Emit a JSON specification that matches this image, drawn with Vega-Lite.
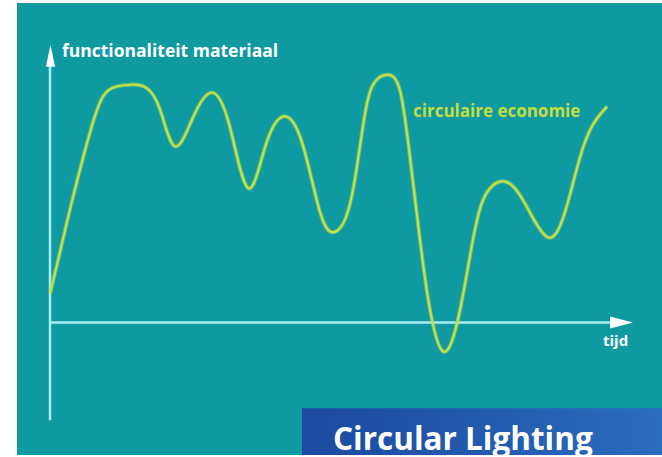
{
  "$schema": "https://vega.github.io/schema/vega-lite/v6.json",
  "width": 662,
  "height": 457,
  "autosize": {"type": "fit", "contains": "padding"},
  "padding": 0,
  "background": "#ffffff",
  "config": {"view": {"stroke": null}},
  "datasets": {
    "panel": [{"x": -33, "x2": 612, "y": -134, "y2": 320}],
    "banner": [{"x": 252, "x2": 612, "y": -134, "y2": -87}],
    "axes": [
      {"x": 0, "x2": 0, "y": -99, "y2": 258},
      {"x": 0, "x2": 562, "y": -1, "y2": -1}
    ],
    "curve": [
      {"tijd": 0, "functionaliteit": 28},
      {"tijd": 10, "functionaliteit": 70},
      {"tijd": 23, "functionaliteit": 125},
      {"tijd": 40, "functionaliteit": 190},
      {"tijd": 53, "functionaliteit": 226},
      {"tijd": 66, "functionaliteit": 236},
      {"tijd": 81, "functionaliteit": 238},
      {"tijd": 96, "functionaliteit": 235},
      {"tijd": 110, "functionaliteit": 213},
      {"tijd": 125, "functionaliteit": 176},
      {"tijd": 143, "functionaliteit": 205},
      {"tijd": 162, "functionaliteit": 230},
      {"tijd": 180, "functionaliteit": 195},
      {"tijd": 198, "functionaliteit": 134},
      {"tijd": 215, "functionaliteit": 175},
      {"tijd": 233, "functionaliteit": 206},
      {"tijd": 252, "functionaliteit": 180},
      {"tijd": 270, "functionaliteit": 110},
      {"tijd": 285, "functionaliteit": 90},
      {"tijd": 300, "functionaliteit": 118},
      {"tijd": 312, "functionaliteit": 190},
      {"tijd": 322, "functionaliteit": 236},
      {"tijd": 337, "functionaliteit": 248},
      {"tijd": 350, "functionaliteit": 232},
      {"tijd": 360, "functionaliteit": 165},
      {"tijd": 370, "functionaliteit": 82},
      {"tijd": 380, "functionaliteit": 12},
      {"tijd": 393, "functionaliteit": -30},
      {"tijd": 407, "functionaliteit": -2},
      {"tijd": 420, "functionaliteit": 66},
      {"tijd": 433, "functionaliteit": 122},
      {"tijd": 453, "functionaliteit": 141},
      {"tijd": 473, "functionaliteit": 122},
      {"tijd": 497, "functionaliteit": 85},
      {"tijd": 515, "functionaliteit": 110},
      {"tijd": 530, "functionaliteit": 165},
      {"tijd": 543, "functionaliteit": 198},
      {"tijd": 557, "functionaliteit": 216}
    ],
    "arrows": [
      {"x": 0.5, "y": 267, "dir": "up"},
      {"x": 571.5, "y": -1, "dir": "right"}
    ],
    "labels": [
      {"x": 12, "y": 271, "text": "functionaliteit materiaal", "kind": "axis"},
      {"x": 553, "y": -20, "text": "tijd", "kind": "tijd"},
      {"x": 363, "y": 211, "text": "circulaire economie", "kind": "series"},
      {"x": 283, "y": -129, "text": "Circular Lighting", "kind": "brand"}
    ]
  },
  "layer": [
    {
      "data": {"name": "panel"},
      "mark": {"type": "rect", "color": "#0f9aa2"},
      "encoding": {
        "x": {"field": "x", "type": "quantitative", "axis": null, "scale": {"domain": [-50, 612], "nice": false, "zero": false}},
        "x2": {"field": "x2"},
        "y": {"field": "y", "type": "quantitative", "axis": null, "scale": {"domain": [-134, 323], "nice": false, "zero": false}},
        "y2": {"field": "y2"}
      }
    },
    {
      "data": {"name": "banner"},
      "mark": {"type": "rect", "fill": {"gradient": "linear", "x1": 0, "y1": 0, "x2": 1, "y2": 0, "stops": [{"offset": 0, "color": "#1b4aa0"}, {"offset": 1, "color": "#2a6cbd"}]}},
      "encoding": {
        "x": {"field": "x", "type": "quantitative", "axis": null},
        "x2": {"field": "x2"},
        "y": {"field": "y", "type": "quantitative", "axis": null},
        "y2": {"field": "y2"}
      }
    },
    {
      "data": {"name": "axes"},
      "mark": {"type": "rule", "color": "#a9edf3", "strokeWidth": 2.5},
      "encoding": {
        "x": {"field": "x", "type": "quantitative", "axis": null},
        "x2": {"field": "x2"},
        "y": {"field": "y", "type": "quantitative", "axis": null},
        "y2": {"field": "y2"}
      }
    },
    {
      "data": {"name": "arrows"},
      "transform": [{"filter": "datum.dir == 'up'"}],
      "mark": {"type": "point", "shape": "M0,-1L0.42,1L-0.42,1Z", "size": 484, "filled": true, "color": "#ffffff", "opacity": 1},
      "encoding": {
        "x": {"field": "x", "type": "quantitative", "axis": null},
        "y": {"field": "y", "type": "quantitative", "axis": null}
      }
    },
    {
      "data": {"name": "arrows"},
      "transform": [{"filter": "datum.dir == 'right'"}],
      "mark": {"type": "point", "shape": "M1,0L-1,0.52L-1,-0.52Z", "size": 529, "filled": true, "color": "#ffffff", "opacity": 1},
      "encoding": {
        "x": {"field": "x", "type": "quantitative", "axis": null},
        "y": {"field": "y", "type": "quantitative", "axis": null}
      }
    },
    {
      "data": {"name": "curve"},
      "mark": {"type": "line", "interpolate": "natural", "color": "#a6dd6a", "strokeWidth": 4, "opacity": 0.55},
      "encoding": {
        "x": {"field": "tijd", "type": "quantitative", "axis": null},
        "y": {"field": "functionaliteit", "type": "quantitative", "axis": null}
      }
    },
    {
      "data": {"name": "curve"},
      "mark": {"type": "line", "interpolate": "natural", "color": "#cde13a", "strokeWidth": 2},
      "encoding": {
        "x": {"field": "tijd", "type": "quantitative", "axis": null},
        "y": {"field": "functionaliteit", "type": "quantitative", "axis": null}
      }
    },
    {
      "data": {"name": "labels"},
      "transform": [{"filter": "datum.kind == 'axis'"}],
      "mark": {"type": "text", "align": "left", "baseline": "middle", "font": "Open Sans", "fontWeight": "bold", "fontSize": 17.5, "color": "#ffffff"},
      "encoding": {
        "x": {"field": "x", "type": "quantitative", "axis": null},
        "y": {"field": "y", "type": "quantitative", "axis": null},
        "text": {"field": "text"}
      }
    },
    {
      "data": {"name": "labels"},
      "transform": [{"filter": "datum.kind == 'tijd'"}],
      "mark": {"type": "text", "align": "left", "baseline": "middle", "font": "Open Sans", "fontWeight": "bold", "fontSize": 15, "color": "#ffffff"},
      "encoding": {
        "x": {"field": "x", "type": "quantitative", "axis": null},
        "y": {"field": "y", "type": "quantitative", "axis": null},
        "text": {"field": "text"}
      }
    },
    {
      "data": {"name": "labels"},
      "transform": [{"filter": "datum.kind == 'series'"}],
      "mark": {"type": "text", "align": "left", "baseline": "middle", "font": "Open Sans", "fontWeight": "bold", "fontSize": 17, "color": "#c6dc3a"},
      "encoding": {
        "x": {"field": "x", "type": "quantitative", "axis": null},
        "y": {"field": "y", "type": "quantitative", "axis": null},
        "text": {"field": "text"}
      }
    },
    {
      "data": {"name": "labels"},
      "transform": [{"filter": "datum.kind == 'brand'"}],
      "mark": {"type": "text", "align": "left", "baseline": "alphabetic", "font": "Open Sans", "fontWeight": "bold", "fontSize": 31.5, "color": "#ffffff"},
      "encoding": {
        "x": {"field": "x", "type": "quantitative", "axis": null},
        "y": {"field": "y", "type": "quantitative", "axis": null},
        "text": {"field": "text"}
      }
    }
  ]
}
